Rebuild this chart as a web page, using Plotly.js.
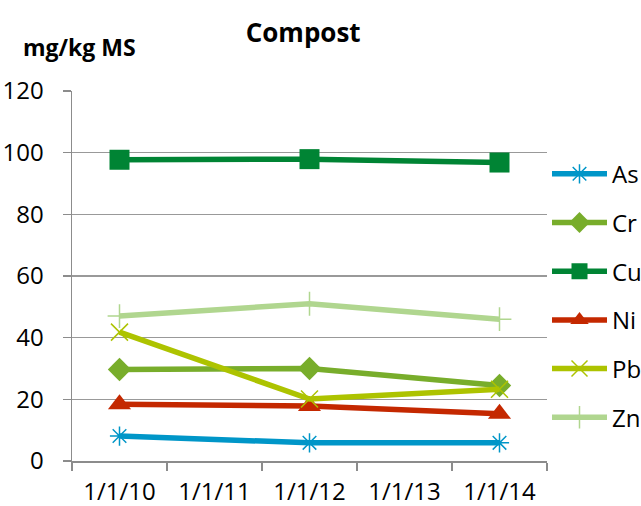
<!DOCTYPE html>
<html>
<head>
<meta charset="utf-8">
<script src="https://cdn.plot.ly/plotly-3.0.1.min.js"></script>
<style>
  html, body { margin: 0; padding: 0; background: #fff; }
  #chart { width: 641px; height: 506px; }
</style>
</head>
<body>
<div id="chart"></div>
<script>
// Sampling dates (category axis) and measured dates
const categories = ['1/1/10', '1/1/11', '1/1/12', '1/1/13', '1/1/14'];
const sampleDates = ['1/1/10', '1/1/12', '1/1/14'];

// Concentrations in mg/kg of dry matter
const As = [8.1, 5.9, 5.9];
const Cr = [29.7, 30.0, 24.5];
const Cu = [97.7, 97.9, 96.8];
const Ni = [18.4, 17.8, 15.3];
const Pb = [41.8, 20.1, 23.3];
const Zn = [47.0, 51.0, 46.0];

const FONT = 'Open Sans, Noto Sans, sans-serif';
const TICK_SIZE = 24;

function series(name, values, color, symbol, size, lineWidth) {
  return {
    type: 'scatter',
    mode: 'lines+markers',
    name: name,
    legendgroup: name,
    x: sampleDates,
    y: values,
    line: { color: color, width: 5.5 },
    marker: {
      symbol: symbol,
      size: size,
      color: color,
      line: { color: color, width: lineWidth }
    }
  };
}

const traces = [
  series('As', As, '#0096C8', 'asterisk-open', 16, 1.5),
  series('Cr', Cr, '#78AD2B', 'diamond', 18, 0),
  series('Cu', Cu, '#008434', 'square', 20, 0),
  series('Ni', Ni, '#C42800', 'triangle-up', 20, 0),
  series('Pb', Pb, '#ADC300', 'x-thin-open', 17, 1.5),
  series('Zn', Zn, '#B0D68F', 'cross-thin-open', 17, 1.5)
];

const layout = {
  width: 641,
  height: 506,
  margin: { l: 72, r: 94, t: 91, b: 45, autoexpand: false },
  paper_bgcolor: '#ffffff',
  plot_bgcolor: '#ffffff',
  font: { family: FONT, size: TICK_SIZE, color: '#000000' },
  showlegend: true,
  title: {
    text: '<b>Compost</b>',
    font: { family: FONT, size: 26, color: '#000000' },
    x: 0.473, xanchor: 'center',
    y: 0.935, yanchor: 'middle'
  },
  annotations: [{
    text: '<b>mg/kg MS</b>',
    xref: 'paper', yref: 'paper',
    x: -0.108, y: 1.119,
    xanchor: 'left', yanchor: 'middle',
    showarrow: false,
    font: { family: FONT, size: 23, color: '#000000' }
  }],
  xaxis: {
    type: 'category',
    categoryorder: 'array',
    categoryarray: categories,
    range: [-0.5, 4.5],
    tickson: 'boundaries',
    ticks: 'outside',
    ticklen: 8,
    tickwidth: 1.5,
    tickcolor: '#8c8c8c',
    showgrid: false,
    showline: true,
    linecolor: '#8c8c8c',
    linewidth: 1.5,
    zeroline: false,
    tickfont: { family: FONT, size: TICK_SIZE, color: '#000000' },
    ticklabelstandoff: 9,
    fixedrange: true
  },
  yaxis: {
    range: [0, 120],
    dtick: 20,
    tick0: 0,
    ticks: 'outside',
    ticklen: 8,
    tickwidth: 1.5,
    tickcolor: '#8c8c8c',
    showgrid: true,
    gridcolor: '#999999',
    gridwidth: 1.5,
    showline: true,
    linecolor: '#8c8c8c',
    linewidth: 1.5,
    zeroline: false,
    tickfont: { family: FONT, size: TICK_SIZE, color: '#000000' },
    ticklabelstandoff: 14,
    fixedrange: true
  },
  legend: {
    x: 1.0, xanchor: 'left',
    y: 0.836, yanchor: 'top',
    bgcolor: 'rgba(0,0,0,0)',
    font: { family: FONT, size: TICK_SIZE, color: '#000000' },
    itemwidth: 55,
    tracegroupgap: 14.5,
    traceorder: 'grouped'
  }
};

Plotly.newPlot('chart', traces, layout, { displayModeBar: false, staticPlot: true });
</script>
</body>
</html>
